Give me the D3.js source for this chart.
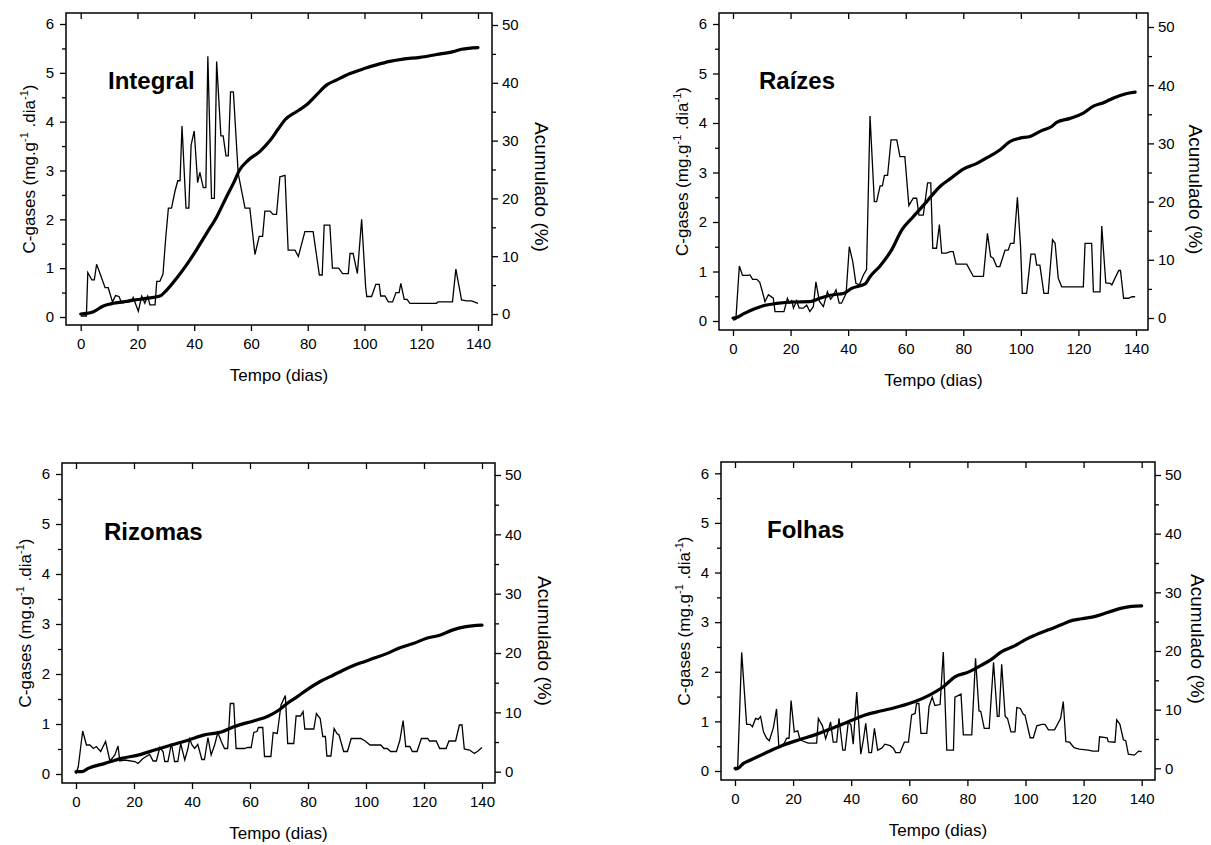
<!DOCTYPE html>
<html><head><meta charset="utf-8">
<script src="https://cdn.jsdelivr.net/npm/d3@7"></script>
<style>
body{margin:0;background:#fff}
svg{display:block}
text{font-family:"Liberation Sans",Arial,Helvetica,sans-serif;fill:#000}
</style>
</head><body>
<svg id="chart" width="1211" height="845"></svg>
<script>
// ---------- tick labels / categories ----------
const xTicks = [0, 20, 40, 60, 80, 100, 120, 140];
const leftTicks = [0, 1, 2, 3, 4, 5, 6];
const leftMinor = [0.5, 1.5, 2.5, 3.5, 4.5, 5.5];
const rightTicks = [0, 10, 20, 30, 40, 50];
const rightMinor = [5, 15, 25, 35, 45];
const panelNames = ["Integral", "Raízes", "Rizomas", "Folhas"];
const xTitle = "Tempo (dias)";
const rightTitle = "Acumulado (%)";

// ---------- series: [dia, C-gases (mg/g/dia)] ----------
const integralRate = [[0,0.02],[2,0.02],[2.5,0.91],[3.9,0.76],[4.8,0.76],[5.6,1.08],[6.8,0.89],[8.6,0.6],[9.7,0.6],[11.2,0.31],[12.3,0.44],[13.5,0.42],[14.4,0.29],[16,0.3],[18,0.32],[18.5,0.4],[20.3,0.12],[21.5,0.43],[22.6,0.28],[23.6,0.43],[24.4,0.25],[26.2,0.25],[26.8,0.73],[27.9,0.73],[29,0.88],[30,1.65],[30.9,2.23],[32,2.23],[33.2,2.57],[34.2,2.79],[35,2.79],[35.7,3.91],[37.1,2.23],[38.1,2.23],[38.9,3.52],[40,3.81],[41.2,2.75],[42,2.96],[43.2,2.65],[44.1,2.65],[44.8,5.34],[46.1,2.43],[47.1,2.43],[47.9,5.23],[49.4,3.71],[50.2,3.71],[51.2,3.3],[52,3.3],[52.8,4.61],[53.8,4.61],[55.5,2.94],[57.9,2.23],[59.6,2.23],[61.4,1.28],[62.9,1.65],[64.1,1.65],[64.9,2.17],[66.7,2.17],[67.8,2.1],[69,2.1],[70.2,2.87],[72,2.9],[73.1,1.37],[75.5,1.37],[76.7,1.24],[79,1.75],[81.9,1.75],[84.1,0.86],[85.1,0.86],[85.8,1.88],[87.8,1.88],[88.7,1.0],[90.9,1.0],[92.3,0.89],[94.3,0.89],[94.9,1.3],[96,1.3],[97.5,0.89],[99,2.0],[100.4,0.62],[100.8,0.42],[102.5,0.42],[104,0.67],[105.2,0.67],[105.7,0.43],[107.2,0.43],[108.4,0.31],[109.9,0.31],[111.1,0.5],[112.2,0.5],[112.8,0.69],[114,0.36],[115,0.36],[116,0.28],[125.4,0.28],[125.9,0.31],[131,0.31],[132.2,0.98],[134.2,0.35],[136,0.33],[137.7,0.33],[140,0.28]];
const raizesRate = [[0,0.02],[1,0.03],[2.2,1.11],[3.3,0.92],[5,0.92],[5.9,0.93],[6.8,0.84],[8.3,0.84],[9.3,0.78],[10.5,0.53],[11.1,0.39],[12.3,0.53],[14,0.46],[14.6,0.19],[17.7,0.19],[18.9,0.46],[19.6,0.36],[20.4,0.41],[21,0.26],[22.1,0.41],[23,0.26],[24.4,0.26],[25.6,0.32],[26.7,0.19],[27.9,0.29],[28.8,0.79],[30,0.4],[31.4,0.29],[32.8,0.59],[33.9,0.44],[34.6,0.49],[35.8,0.63],[36.9,0.36],[37.7,0.36],[39.3,0.56],[40.4,1.5],[41.6,1.2],[42.7,0.76],[43.9,0.73],[45.3,0.93],[46.4,1.04],[47.6,4.14],[49.1,2.41],[49.9,2.41],[51.1,2.73],[51.9,2.73],[52.6,2.94],[53.7,2.94],[54.9,3.66],[56.9,3.66],[58,3.32],[59.7,3.32],[61.1,2.33],[62.6,2.48],[63.8,2.48],[64.6,2.14],[66.1,2.14],[67.6,2.79],[68.7,2.79],[69.4,1.47],[70.7,1.47],[71.7,1.95],[72.5,1.37],[74.2,1.37],[75.4,1.4],[76.5,1.4],[77.5,1.15],[81.2,1.15],[83.5,0.9],[87,0.9],[88.4,1.77],[89.5,1.3],[90.4,1.27],[91.6,1.1],[92.7,1.1],[94.5,1.43],[95.6,1.43],[96.4,1.57],[97.6,1.57],[98.8,2.5],[99.9,1.5],[100.5,0.56],[102,0.56],[103.5,1.35],[104.9,1.35],[105.5,1.13],[106.6,1.13],[108,0.56],[109.5,0.56],[111,1.64],[111.9,1.57],[113,0.86],[114.2,0.69],[121.7,0.69],[122.3,1.57],[124.6,1.57],[125.2,0.59],[127.5,0.59],[128.1,1.92],[129.5,0.77],[131,0.76],[131.6,0.73],[134,1.02],[134.6,1.02],[135.7,0.46],[137.4,0.46],[138.6,0.49],[139.7,0.49]];
const rizomasRate = [[0,0],[0.8,0.15],[2.3,0.86],[3.6,0.58],[4.8,0.58],[6,0.51],[7,0.55],[8.5,0.45],[10.2,0.65],[11.7,0.26],[13.4,0.38],[14.5,0.56],[15.1,0.26],[16.8,0.28],[20.3,0.25],[21.4,0.21],[23.1,0.31],[25.4,0.39],[26.6,0.26],[27.7,0.26],[28.9,0.53],[30,0.45],[30.6,0.25],[31.7,0.25],[32.9,0.61],[34,0.25],[35.1,0.25],[36.1,0.61],[37.5,0.28],[38.6,0.51],[39.2,0.7],[40,0.58],[40.9,0.51],[42,0.59],[43.4,0.29],[44.3,0.29],[45.5,0.73],[46.6,0.38],[47.8,0.58],[48.9,0.83],[50.1,0.65],[51.2,0.51],[52.3,0.51],[53.2,1.41],[54.4,1.41],[55.2,0.51],[58.1,0.51],[59.2,0.53],[60.4,0.53],[61.3,0.83],[62.4,0.85],[62.9,0.93],[64.4,0.93],[65,0.35],[67.2,0.35],[68,0.83],[69.4,0.81],[70.7,1.38],[72.2,1.57],[73,0.61],[75.1,0.61],[75.9,1.16],[77.4,1.16],[78.3,1.25],[78.9,0.9],[82,0.9],[82.9,1.21],[84.2,1.11],[85.1,0.75],[86,0.75],[86.5,0.36],[87.9,0.36],[89,0.91],[90,0.81],[90.7,0.78],[92.3,0.45],[93.6,0.45],[94.9,0.71],[98.2,0.71],[99.7,0.66],[101.4,0.58],[105.1,0.58],[106.2,0.51],[107.3,0.51],[108.5,0.45],[110.5,0.45],[111.7,0.68],[112.8,1.07],[113.7,0.55],[115.1,0.55],[116,0.45],[117.6,0.45],[119.1,0.71],[121.3,0.71],[121.9,0.66],[124.2,0.66],[125.4,0.51],[127.6,0.51],[128.6,0.66],[130.9,0.66],[132.2,0.98],[133.1,0.98],[133.9,0.5],[135.7,0.48],[137.4,0.41],[138.6,0.46],[140,0.53]];
const folhasRate = [[0,0.02],[0.9,0.03],[2.3,2.39],[4,0.94],[5.2,0.94],[6,0.89],[7.1,1.06],[8,1.04],[8.8,1.1],[9.8,0.79],[10.9,0.66],[11.8,0.61],[13.2,0.87],[14.3,1.25],[15.1,0.49],[16.6,0.52],[17.8,0.66],[18.6,0.66],[19.3,1.42],[20.4,0.79],[21.6,0.81],[22.4,0.63],[23.5,0.6],[25.2,0.56],[28.1,0.56],[28.7,1.06],[30.1,0.91],[31.2,0.65],[32.1,0.81],[32.9,0.99],[33.8,0.58],[35,0.58],[35.8,1.06],[37.1,0.42],[37.9,0.42],[39,0.99],[39.9,0.93],[40.7,0.54],[41.9,1.59],[43.3,0.34],[44.2,0.63],[45,0.96],[46.1,0.37],[47,0.37],[48,0.86],[49.1,0.42],[50.5,0.46],[51.6,0.54],[53.4,0.51],[54.5,0.46],[55.3,0.37],[56.8,0.37],[58.3,0.58],[59.7,0.58],[60.8,1.13],[62,1.16],[62.5,1.36],[63.3,1.36],[64,0.76],[66,0.76],[66.8,1.3],[67.9,1.49],[68.8,1.32],[70.6,1.34],[71.7,2.4],[72.9,0.42],[75.2,0.42],[75.7,1.49],[77.8,1.55],[78.6,0.73],[81.5,0.73],[82.8,2.27],[84,1.21],[84.6,1.2],[85.8,0.86],[87.5,0.86],[89,2.19],[90.3,1.1],[90.9,1.1],[91.8,2.15],[93,1.1],[93.8,1.06],[95,0.79],[96.4,0.79],[97,1.28],[98.2,1.26],[99.3,1.14],[99.8,1.13],[101.6,0.67],[102.7,0.67],[103.9,0.91],[105.6,0.94],[106.7,0.94],[107.9,0.83],[110,0.83],[112.1,1.06],[113,1.4],[113.9,0.59],[115.2,0.58],[116.7,0.47],[118.5,0.44],[121.6,0.42],[123.2,0.4],[125.1,0.4],[125.5,0.69],[128.1,0.67],[128.5,0.59],[130.8,0.58],[131.4,1.03],[132.5,0.94],[133.7,0.63],[134.5,0.61],[135.4,0.34],[137.5,0.32],[138.9,0.4],[140,0.39]];

// ---------- series: [dia, Acumulado (%)] ----------
const integralCum = [[0,0],[2,0.1],[4.5,0.4],[8,1.4],[11.5,1.85],[15,2.1],[18.5,2.4],[23.2,2.7],[27.9,3.1],[30.3,4.15],[33.8,6.2],[37.3,8.5],[40.8,11.1],[44.4,14],[47.9,16.8],[51.4,20.3],[53.8,22.6],[56.1,25],[59,26.6],[63.1,28.1],[66.7,30],[69.6,32],[72,33.6],[76,35],[79.6,36.2],[83.1,37.9],[86.6,39.6],[90.2,40.5],[94.9,41.6],[100.2,42.5],[104.2,43.1],[108.9,43.7],[113.6,44.1],[119.5,44.4],[125.4,44.9],[131.3,45.4],[134.2,45.8],[140,46.1]];
const raizesCum = [[0,0],[1.3,0.1],[3.6,0.7],[7.1,1.5],[10.5,2.1],[15.2,2.5],[21,2.75],[26.7,2.8],[30.2,3.4],[34.9,4.0],[38.3,4.2],[41.2,5.1],[45.9,5.85],[47.6,7.1],[51.1,8.95],[55.1,11.7],[58.6,15.1],[62.6,17.4],[67.3,20],[71.9,22.6],[75.4,23.9],[80,25.6],[84.9,26.6],[88.1,27.5],[92.8,28.9],[96.2,30.3],[99.7,30.9],[103.2,31.2],[107.2,32.2],[110.7,32.9],[112.4,33.6],[117.1,34.3],[121.7,35.2],[125.2,36.4],[128.7,37],[132.2,37.8],[136.2,38.5],[139.7,38.8]];
const rizomasCum = [[0,0],[2,0],[4.2,0.56],[10,1.4],[15.7,2.25],[21.4,2.8],[27.1,3.65],[32.9,4.5],[38.6,5.3],[44.3,6.2],[50.1,6.7],[54.6,7.6],[61.5,8.6],[66,9.3],[70,10.4],[72.8,11.5],[76.2,12.6],[79.6,13.8],[84.2,15.2],[88.8,16.3],[93.4,17.4],[98,18.3],[102.6,19.1],[107.1,19.9],[111.7,20.9],[116.3,21.6],[120.9,22.5],[125.4,23],[130,23.9],[134,24.4],[140,24.7]];
const folhasCum = [[0,0],[1,0],[2.9,0.85],[4.6,1.25],[10.3,2.56],[16.1,3.86],[21.8,4.83],[27.5,5.7],[33.3,6.8],[39,7.95],[44.8,9.1],[50.5,9.8],[56.2,10.5],[62,11.4],[66.6,12.4],[71.7,13.9],[75.7,15.6],[80.3,16.4],[84.9,17.6],[88.4,18.6],[91.8,19.9],[96.4,20.9],[99.8,21.9],[103.3,22.7],[107.9,23.6],[112.5,24.5],[114.7,25],[119.4,25.5],[124,25.9],[128.5,26.6],[133.1,27.3],[136.5,27.6],[140,27.7]];

const rateSeries = [integralRate, raizesRate, rizomasRate, folhasRate];
const cumSeries = [integralCum, raizesCum, rizomasCum, folhasCum];

// ---------- layout (pixels) ----------
const layout = [
  {frame:[66,13,492,325],   x:[80.7,478],    yL:[317,24],    yR:[314,25],    label:[108,89],  rt:535},
  {frame:[719,13,1148,330], x:[733,1136],    yL:[321,24],    yR:[318,27],    label:[759,89],  rt:1189},
  {frame:[62,463,495,783],  x:[76,482],      yL:[774,474],   yR:[771.7,475], label:[104,540], rt:538},
  {frame:[721,462,1155,780],x:[735,1141.7],  yL:[771,473.3], yR:[768.3,475], label:[767,538], rt:1191}
];

const svg = d3.select("#chart");
const FONT = '"Liberation Sans",Arial,Helvetica,sans-serif';

function styleAxis(g){
  g.select(".domain").remove();
  g.attr("font-family", FONT).attr("font-size", 15);
  g.selectAll("line").attr("stroke","#000").attr("stroke-width",1.3);
  g.selectAll("text").attr("fill","#000");
}

layout.forEach((L, i) => {
  const [fx0, fy0, fx1, fy1] = L.frame;
  const x = d3.scaleLinear().domain([0,140]).range(L.x);
  const yL = d3.scaleLinear().domain([0,6]).range(L.yL);
  const yR = d3.scaleLinear().domain([0,50]).range(L.yR);
  const g = svg.append("g");

  // axes
  g.append("g").attr("transform",`translate(0,${fy1})`)
    .call(d3.axisBottom(x).tickValues(xTicks).tickSize(6).tickPadding(7).tickFormat(d3.format("d"))).call(styleAxis);
  g.append("g").attr("transform",`translate(0,${fy0})`)
    .call(d3.axisTop(x).tickValues(xTicks).tickSize(-6).tickFormat("")).call(styleAxis);
  g.append("g").attr("transform",`translate(${fx0},0)`)
    .call(d3.axisLeft(yL).tickValues(leftTicks).tickSize(6).tickPadding(6).tickFormat(d3.format("d"))).call(styleAxis);
  g.append("g").attr("transform",`translate(${fx0},0)`)
    .call(d3.axisLeft(yL).tickValues(leftMinor).tickSize(4).tickFormat("")).call(styleAxis);
  g.append("g").attr("transform",`translate(${fx1},0)`)
    .call(d3.axisRight(yR).tickValues(rightTicks).tickSize(6).tickPadding(4).tickFormat(d3.format("d"))).call(styleAxis);
  g.append("g").attr("transform",`translate(${fx1},0)`)
    .call(d3.axisRight(yR).tickValues(rightMinor).tickSize(4).tickFormat("")).call(styleAxis);

  // lines
  const rateLine = d3.line().x(d => x(d[0])).y(d => yL(d[1]));
  const cumLine = d3.line().x(d => x(d[0])).y(d => yR(d[1])).curve(d3.curveMonotoneX);
  g.append("path").datum(rateSeries[i]).attr("d", rateLine)
    .attr("fill","none").attr("stroke","#000").attr("stroke-width",1.3).attr("stroke-linejoin","miter");
  g.append("path").datum(cumSeries[i]).attr("d", cumLine)
    .attr("fill","none").attr("stroke","#000").attr("stroke-width",3.2).attr("stroke-linejoin","round").attr("stroke-linecap","round");

  // frame
  g.append("rect").attr("x",fx0).attr("y",fy0).attr("width",fx1-fx0).attr("height",fy1-fy0)
    .attr("fill","none").attr("stroke","#000").attr("stroke-width",1.5);

  // panel label
  g.append("text").attr("x",L.label[0]).attr("y",L.label[1])
    .attr("font-size",24).attr("font-weight","bold").text(panelNames[i]);

  // x title
  g.append("text").attr("x",(fx0+fx1)/2).attr("y",fy1+56)
    .attr("text-anchor","middle").attr("font-size",17).text(xTitle);

  // left title
  const lt = g.append("text")
    .attr("transform",`translate(${fx0-31},${(fy0+fy1)/2}) rotate(-90)`)
    .attr("text-anchor","middle").attr("font-size",17);
  lt.append("tspan").text("C-gases (mg.g");
  lt.append("tspan").attr("font-size",11).attr("dy",-7).text("-1");
  lt.append("tspan").attr("dy",7).text(" .dia");
  lt.append("tspan").attr("font-size",11).attr("dy",-7).text("-1");
  lt.append("tspan").attr("dy",7).text(")");

  // right title
  g.append("text")
    .attr("transform",`translate(${L.rt},${(fy0+fy1)/2+18}) rotate(90)`)
    .attr("text-anchor","middle").attr("font-size",19).text(rightTitle);
});
</script>
</body></html>
